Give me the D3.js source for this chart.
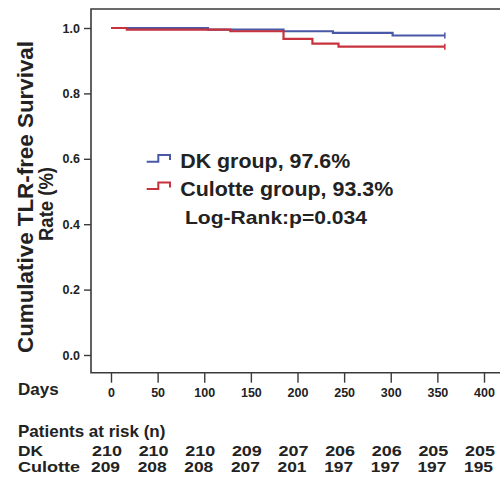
<!DOCTYPE html>
<html>
<head>
<meta charset="utf-8">
<script src="https://cdn.jsdelivr.net/npm/d3@7/dist/d3.min.js"></script>
<style>
  html, body { margin: 0; padding: 0; background: #fff; }
  svg { display: block; font-family: "Liberation Sans", Arial, sans-serif; }
</style>
</head>
<body>
<svg id="chart" width="500" height="478"></svg>
<script>
// ---- data ----
const dkTimes      = [0, 104, 185, 238, 302, 358];
const dkSurv       = [1.000, 0.995, 0.990, 0.985, 0.977, 0.977];
const culotteTimes = [0, 17, 128, 185, 216, 244, 358];
const culotteSurv  = [1.000, 0.995, 0.990, 0.967, 0.952, 0.943, 0.943];

const xTicks = [0, 50, 100, 150, 200, 250, 300, 350, 400];
const yTicks = [0.0, 0.2, 0.4, 0.6, 0.8, 1.0];

const riskTimes   = [0, 50, 100, 150, 200, 250, 300, 350, 400];
const riskDK      = [210, 210, 210, 209, 207, 206, 206, 205, 205];
const riskCulotte = [209, 208, 208, 207, 201, 197, 197, 197, 195];

const legendLabels = ["DK group, 97.6%", "Culotte group, 93.3%"];
const pValueText = "Log-Rank:p=0.034";

// ---- layout ----
const svg = d3.select("#chart");
const textColor = "#222";
const blue = "#4a58a8";
const red = "#c8323c";
const frameLeft = 91, frameTop = 9, frameBottom = 372.7;

const x = d3.scaleLinear().domain([0, 400]).range([111, 484]);
const y = d3.scaleLinear().domain([0, 1]).range([355, 28]);

// frame
svg.append("path")
  .attr("d", `M510,${frameTop}H${frameLeft}V${frameBottom}H510`)
  .attr("fill", "none").attr("stroke", "#3a3a3a").attr("stroke-width", 1.6);

// y axis
const yAxis = svg.append("g")
  .attr("transform", `translate(${frameLeft},0)`)
  .call(d3.axisLeft(y).tickValues(yTicks).tickFormat(d3.format(".1f")).tickSize(7).tickPadding(4));
yAxis.select(".domain").remove();
yAxis.selectAll(".tick line").attr("stroke", "#3a3a3a").attr("stroke-width", 1.4);
yAxis.selectAll(".tick text")
  .attr("fill", textColor).attr("font-size", 12.5).attr("font-weight", "bold")
  .attr("font-family", "Liberation Sans, Arial, sans-serif");

// x axis
const xAxis = svg.append("g")
  .attr("transform", `translate(0,${frameBottom})`)
  .call(d3.axisBottom(x).tickValues(xTicks).tickFormat(d3.format("d")).tickSize(10).tickPadding(5));
xAxis.select(".domain").remove();
xAxis.selectAll(".tick line").attr("stroke", "#3a3a3a").attr("stroke-width", 1.4);
xAxis.selectAll(".tick text")
  .attr("fill", textColor).attr("font-size", 12.5).attr("font-weight", "bold")
  .attr("font-family", "Liberation Sans, Arial, sans-serif");

// y title
const yTitle = svg.append("g").attr("fill", textColor).attr("font-weight", "bold");
yTitle.append("text")
  .attr("transform", "translate(33,197) rotate(-90)")
  .attr("text-anchor", "middle").attr("font-size", 21.5)
  .attr("textLength", 312).attr("lengthAdjust", "spacingAndGlyphs")
  .text("Cumulative TLR-free Survival");
yTitle.append("text")
  .attr("transform", "translate(53,204) rotate(-90)")
  .attr("text-anchor", "middle").attr("font-size", 21)
  .attr("textLength", 74).attr("lengthAdjust", "spacingAndGlyphs")
  .text("Rate (%)");

// curves
const line = d3.line().x(d => x(d[0])).y(d => y(d[1])).curve(d3.curveStepAfter);
function drawCurve(times, surv, color) {
  const pts = times.map((t, i) => [t, surv[i]]);
  svg.append("path").datum(pts)
    .attr("d", line).attr("fill", "none")
    .attr("stroke", color).attr("stroke-width", 2.2);
  const last = pts[pts.length - 1];
  svg.append("line")
    .attr("x1", x(last[0])).attr("x2", x(last[0]))
    .attr("y1", y(last[1]) - 3).attr("y2", y(last[1]) + 3)
    .attr("stroke", color).attr("stroke-width", 1.5);
}
drawCurve(dkTimes, dkSurv, blue);
drawCurve(culotteTimes, culotteSurv, red);

// legend
const legColors = [blue, red];
const legBase = [168.3, 195.7];
legendLabels.forEach((lab, i) => {
  const g = svg.append("g").attr("transform", `translate(146.7,${legBase[i]})`);
  g.append("path")
    .attr("d", "M0,-6.6H11.6V-13.3H23.3V-8.3")
    .attr("fill", "none").attr("stroke", legColors[i]).attr("stroke-width", 2);
  g.append("text")
    .attr("x", 33.5).attr("y", 0)
    .attr("fill", textColor).attr("font-weight", "bold").attr("font-size", 19.5)
    .attr("textLength", i === 0 ? 170 : 213).attr("lengthAdjust", "spacingAndGlyphs")
    .text(lab);
});
svg.append("text")
  .attr("x", 185).attr("y", 224)
  .attr("fill", textColor).attr("font-weight", "bold").attr("font-size", 18.5)
  .attr("textLength", 182).attr("lengthAdjust", "spacingAndGlyphs")
  .text(pValueText);

// Days label
svg.append("text")
  .attr("x", 18).attr("y", 395)
  .attr("fill", textColor).attr("font-weight", "bold").attr("font-size", 17)
  .text("Days");

// risk table
const risk = svg.append("g").attr("fill", textColor).attr("font-weight", "bold");
const rowFont = 14.5;
risk.append("text").attr("x", 18).attr("y", 437).attr("font-size", 17).text("Patients at risk (n)");
risk.append("text").attr("x", 18).attr("y", 455.5).attr("font-size", rowFont)
  .attr("textLength", 25).attr("lengthAdjust", "spacingAndGlyphs").text("DK");
risk.append("text").attr("x", 18).attr("y", 472).attr("font-size", rowFont)
  .attr("textLength", 62).attr("lengthAdjust", "spacingAndGlyphs").text("Culotte");
risk.selectAll(".rdk").data(riskDK).join("text")
  .attr("class", "rdk")
  .attr("x", (d, i) => x(riskTimes[i]) - 19).attr("y", 455.5)
  .attr("font-size", rowFont)
  .attr("textLength", 30).attr("lengthAdjust", "spacingAndGlyphs")
  .text(d => d);
risk.selectAll(".rcu").data(riskCulotte).join("text")
  .attr("class", "rcu")
  .attr("x", (d, i) => x(riskTimes[i]) - 20).attr("y", 472)
  .attr("font-size", rowFont)
  .attr("textLength", 29).attr("lengthAdjust", "spacingAndGlyphs")
  .text(d => d);
</script>
</body>
</html>
